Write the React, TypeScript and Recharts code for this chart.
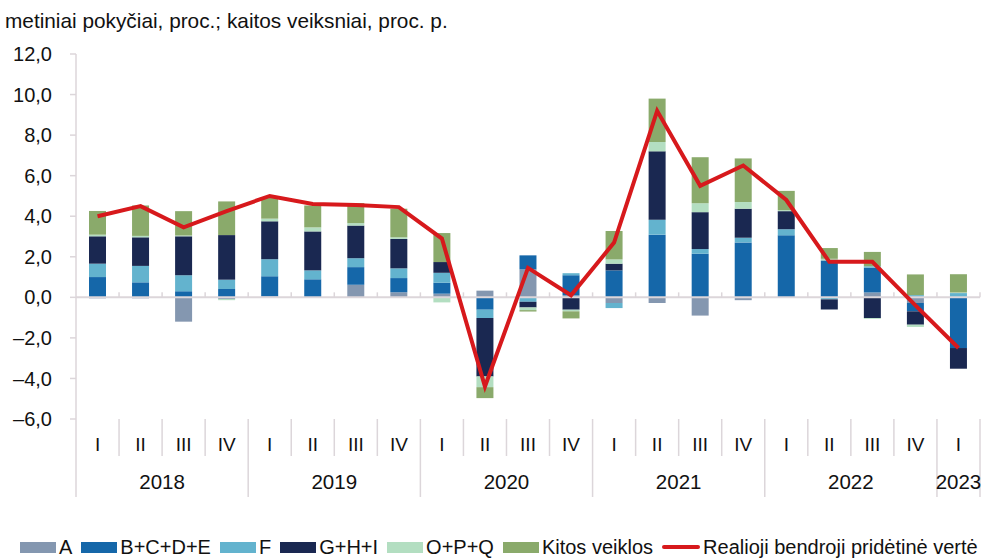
import { Bar, ComposedChart, Line, ReferenceLine, XAxis, YAxis } from 'recharts'

const quarters = ['I', 'II', 'III', 'IV', 'I', 'II', 'III', 'IV', 'I', 'II', 'III', 'IV', 'I', 'II', 'III', 'IV', 'I', 'II', 'III', 'IV', 'I']
const years = ['2018', '2018', '2018', '2018', '2019', '2019', '2019', '2019', '2020', '2020', '2020', '2020', '2021', '2021', '2021', '2021', '2022', '2022', '2022', '2022', '2023']

// kaitos veiksniai, proc. p.
const agri = [-0.05, -0.05, -1.2, -0.08, 0.05, 0, 0.62, 0.25, 0.18, 0.33, 1.38, 0.1, -0.28, -0.28, -0.9, -0.14, 0, 0, 0.24, -0.28, 0]
const industry = [1.0, 0.74, 0.3, 0.41, 0.99, 0.89, 0.87, 0.7, 0.54, -0.61, 0.69, 0.99, 1.33, 3.09, 2.15, 2.71, 3.06, 1.82, 1.22, -0.41, -2.5]
const construction = [0.66, 0.81, 0.79, 0.46, 0.84, 0.44, 0.44, 0.48, 0.49, -0.41, -0.22, 0.1, -0.25, 0.74, 0.23, 0.23, 0.3, -0.1, 0.07, 0.11, 0.21]
const trade = [1.35, 1.41, 1.92, 2.2, 1.87, 1.92, 1.61, 1.45, 0.53, -2.88, -0.28, -0.61, 0.33, 3.37, 1.82, 1.43, 0.89, -0.5, -1.02, -0.66, -1.02]
const publicSector = [0.08, 0.07, 0.04, -0.06, 0.13, 0.2, 0.12, 0.08, -0.25, -0.53, -0.13, -0.08, 0.21, 0.46, 0.44, 0.33, 0.05, 0.08, -0.04, -0.11, 0.03]
const other = [1.17, 1.5, 1.2, 1.66, 1.02, 1.08, 0.99, 1.41, 1.43, -0.54, -0.07, -0.35, 1.4, 2.14, 2.27, 2.15, 0.95, 0.53, 0.71, 1.02, 0.9]
// metiniai pokyčiai, proc.
const gva = [4.0, 4.5, 3.45, 4.25, 5.0, 4.6, 4.55, 4.45, 2.9, -4.4, 1.45, 0.1, 2.7, 9.2, 5.5, 6.5, 4.8, 1.75, 1.75, -0.4, -2.5]

const yTicks = [-6, -4, -2, 0, 2, 4, 6, 8, 10, 12]

const series = [
  { key: 'A', name: 'A', color: '#8497B0' },
  { key: 'BCDE', name: 'B+C+D+E', color: '#1567A9' },
  { key: 'F', name: 'F', color: '#63B3CE' },
  { key: 'GHI', name: 'G+H+I', color: '#1A2851' },
  { key: 'OPQ', name: 'O+P+Q', color: '#B3DEC1' },
  { key: 'other', name: 'Kitos veiklos', color: '#8AAA6B' },
]
const lineColor = '#D7191C'
const lineName = 'Realioji bendroji pridėtinė vertė'

const data = quarters.map((q, i) => ({
  q,
  year: years[i],
  A: agri[i],
  BCDE: industry[i],
  F: construction[i],
  GHI: trade[i],
  OPQ: publicSector[i],
  other: other[i],
  gva: gva[i],
}))

const W = 996
const H = 560
const PLOT_LEFT = 76
const PLOT_RIGHT = 980
const BAND = (PLOT_RIGHT - PLOT_LEFT) / quarters.length
const axisColor = '#DCD6DA'
const font = '"Liberation Sans", Arial, sans-serif'

const fmt = (v: number) => (v < 0 ? '–' : '') + Math.abs(v).toFixed(1).replace('.', ',')

function QuarterTick(props: any) {
  const { x, y, index } = props
  const left = x - BAND / 2
  const first = index === 0 || years[index] !== years[index - 1]
  const last = index === quarters.length - 1
  return (
    <g>
      <line x1={left} x2={left} y1={y} y2={y + (first ? 78 : 37)} stroke={axisColor} strokeWidth={1.5} />
      {last && <line x1={x + BAND / 2} x2={x + BAND / 2} y1={y} y2={y + 78} stroke={axisColor} strokeWidth={1.5} />}
      <text x={x} y={y + 25} textAnchor="middle" dominantBaseline="central" fontSize={19} fill="#111" fontFamily={font}>
        {quarters[index]}
      </text>
    </g>
  )
}

function YearTick(props: any) {
  const { x, y, index } = props
  const count = years.filter((yr) => yr === years[index]).length
  const first = index === 0 || years[index] !== years[index - 1]
  if (!first) return null
  const cx = x + ((count - 1) * BAND) / 2
  return (
    <text x={cx} y={y + 25} textAnchor="middle" dominantBaseline="central" fontSize={20.5} fill="#111" fontFamily={font}>
      {years[index]}
    </text>
  )
}

function ZeroLine(props: any) {
  const { x1, x2, y1 } = props
  const step = (x2 - x1) / quarters.length
  return (
    <g>
      <line x1={x1} x2={x2} y1={y1} y2={y1} stroke={axisColor} strokeWidth={2} />
      {quarters.map((_, i) => (
        <line key={i} x1={x1 + step * (i + 1)} x2={x1 + step * (i + 1)} y1={y1} y2={y1 - 5} stroke={axisColor} strokeWidth={1.5} />
      ))}
    </g>
  )
}

export default function App() {
  return (
    <div style={{ position: 'absolute', left: 0, top: 0, width: W, height: H, overflow: 'hidden', background: '#fff', fontFamily: font }}>
      <div style={{ position: 'absolute', left: 5, top: 9, fontSize: 20.8, color: '#111', whiteSpace: 'nowrap' }}>
        metiniai pokyčiai, proc.; kaitos veiksniai, proc. p.
      </div>
      <ComposedChart
        width={W}
        height={H}
        data={data}
        stackOffset="sign"
        barSize={17}
        margin={{ top: 54, right: W - PLOT_RIGHT, bottom: 63, left: 0 }}
      >
        <YAxis
          width={PLOT_LEFT}
          domain={[-6, 12]}
          ticks={yTicks}
          interval={0}
          tickFormatter={fmt}
          tick={{ fontSize: 20, fill: '#111', fontFamily: font }}
          axisLine={{ stroke: axisColor, strokeWidth: 1.5 }}
          tickLine={{ stroke: axisColor, strokeWidth: 1.5 }}
          tickSize={6}
          tickMargin={18}
        />
        <XAxis
          xAxisId="q"
          dataKey="q"
          height={37}
          interval={0}
          axisLine={false}
          tickLine={false}
          tickSize={0}
          tickMargin={0}
          tick={(p: any) => <QuarterTick {...p} />}
        />
        <XAxis
          xAxisId="y"
          dataKey="year"
          height={41}
          interval={0}
          axisLine={false}
          tickLine={false}
          tickSize={0}
          tickMargin={0}
          tick={(p: any) => <YearTick {...p} />}
        />
        <ReferenceLine y={0} xAxisId="q" stroke={axisColor} shape={(p: any) => <ZeroLine {...p} />} />
        {series.map((s) => (
          <Bar key={s.key} xAxisId="q" dataKey={s.key} name={s.name} stackId="s" fill={s.color} isAnimationActive={false} />
        ))}
        <Line
          xAxisId="q"
          dataKey="gva"
          name={lineName}
          type="linear"
          stroke={lineColor}
          strokeWidth={4}
          dot={false}
          activeDot={false}
          isAnimationActive={false}
        />
      </ComposedChart>
      <div
        style={{
          position: 'absolute',
          left: 20,
          top: 536,
          display: 'flex',
          alignItems: 'center',
          fontSize: 20,
          lineHeight: '22px',
          color: '#111',
          whiteSpace: 'nowrap',
        }}
      >
        {series.map((s) => (
          <div key={s.key} style={{ display: 'flex', alignItems: 'center', marginRight: 9 }}>
            <span style={{ display: 'inline-block', width: 36, height: 11, background: s.color, marginRight: 3 }} />
            <span>{s.name}</span>
          </div>
        ))}
        <div style={{ display: 'flex', alignItems: 'center' }}>
          <span style={{ display: 'inline-block', width: 38, height: 4, background: lineColor, borderRadius: 2, marginRight: 3 }} />
          <span>{lineName}</span>
        </div>
      </div>
    </div>
  )
}
